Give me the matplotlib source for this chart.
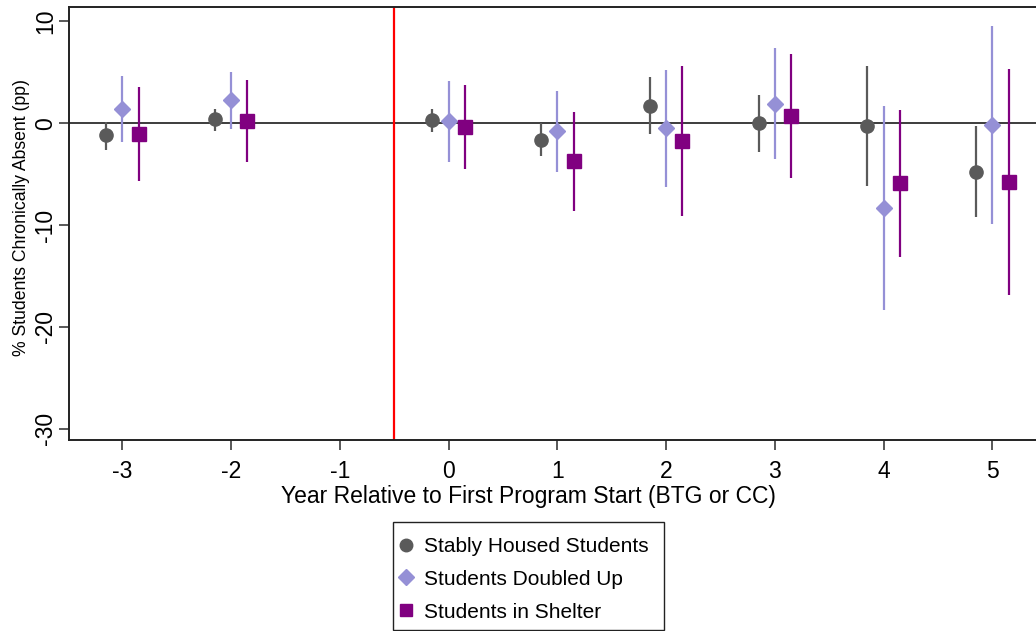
import matplotlib
matplotlib.use("Agg")
import matplotlib.pyplot as plt
from matplotlib.lines import Line2D
from matplotlib.patches import Rectangle
import numpy as np

plt.rcParams['font.family'] = ['Liberation Sans', 'DejaVu Sans']

years = [-3, -2, 0, 1, 2, 3, 4, 5]

stable_est = [-1.18, 0.36, 0.29, -1.63, 1.70, 0.00, -0.26, -4.77]
stable_lo = [-2.60, -0.75, -0.90, -3.27, -1.10, -2.84, -6.20, -9.20]
stable_hi = [0.13, 1.40, 1.40, -0.03, 4.50, 2.80, 5.60, -0.32]

doubled_est = [1.37, 2.25, 0.20, -0.78, -0.52, 1.86, -8.30, -0.20]
doubled_lo = [-1.83, -0.56, -3.80, -4.77, -6.30, -3.56, -18.30, -9.90]
doubled_hi = [4.60, 5.00, 4.15, 3.20, 5.26, 7.35, 1.70, 9.54]

shelter_est = [-1.10, 0.20, -0.42, -3.73, -1.73, 0.69, -5.88, -5.75]
shelter_lo = [-5.70, -3.85, -4.50, -8.60, -9.10, -5.40, -13.10, -16.90]
shelter_hi = [3.50, 4.20, 3.70, 1.10, 5.60, 6.76, 1.27, 5.36]

xticks = [-3, -2, -1, 0, 1, 2, 3, 4, 5]
yticks = [10, 0, -10, -20, -30]

labels = ["Stably Housed Students", "Students Doubled Up", "Students in Shelter"]
colors = ["#5a5a5a", "#9590d6", "#800080"]
markers = ["o", "D", "s"]
msizes = [9.5, 8.5, 9.5]
offsets = [-0.15, 0.0, 0.15]

W, H = 1036, 631
fig = plt.figure(figsize=(W / 100, H / 100), dpi=100)
ax = fig.add_axes([69 / W, (H - 440) / H, 1 - 69 / W, (440 - 7) / H])

ax.axhline(0, color="#3c3c3c", lw=1.4, zorder=1)
ax.axvline(-0.5, color="#ff0000", lw=1.6, zorder=1)

series = [
    (stable_est, stable_lo, stable_hi),
    (doubled_est, doubled_lo, doubled_hi),
    (shelter_est, shelter_lo, shelter_hi),
]
for (est, lo, hi), c, m, ms, off in zip(series, colors, markers, msizes, offsets):
    x = np.array(years, dtype=float) + off
    est = np.array(est)
    yerr = np.vstack([est - np.array(lo), np.array(hi) - est])
    ax.errorbar(x, est, yerr=yerr, fmt=m, color=c, ecolor=c, elinewidth=1.6,
                capsize=0, ms=ms, mec=c, mfc=c, zorder=3)

ax.set_xlim(-3.49, 5.40)
ax.set_ylim(-31.1, 11.4)
ax.set_xticks(xticks)
ax.set_xticklabels([str(t) for t in xticks])
ax.set_yticks(yticks)
ax.set_yticklabels([str(t) for t in yticks], rotation=90, va="center")
ax.tick_params(axis="both", labelsize=16.5, length=7.2, width=1.2, color="#3c3c3c")
ax.tick_params(axis="x", pad=7.5)
ax.tick_params(axis="y", pad=1.5)

for side in ["top", "bottom", "left"]:
    ax.spines[side].set_color("#222222")
    ax.spines[side].set_linewidth(1.4)
ax.spines["right"].set_visible(False)

ax.set_xlabel("Year Relative to First Program Start (BTG or CC)", fontsize=16.5, va="center")
ax.xaxis.set_label_coords(528.5 / W, (H - 497) / H, transform=fig.transFigure)
ax.set_ylabel("% Students Chronically Absent (pp)", fontsize=12.7, va="center")
ax.yaxis.set_label_coords(22 / W, (H - 218) / H, transform=fig.transFigure)

handles = [Line2D([], [], ls="none", marker=m, color=c, ms=ms)
           for m, c, ms in zip(markers, colors, [9, 8, 8.5])]
leg = fig.legend(handles, labels, loc="upper left", bbox_to_anchor=(399.5 / W, (H - 537) / H),
                 fontsize=15, frameon=False,
                 handlelength=0.6, handletextpad=0.58, borderpad=0, labelspacing=0.66,
                 borderaxespad=0)
fig.add_artist(Rectangle((393 / W, (H - 630) / H), 271 / W, 108 / H,
                         transform=fig.transFigure, fill=False, ec="#222222", lw=1.0))

fig.savefig("out.png", dpi=100)
